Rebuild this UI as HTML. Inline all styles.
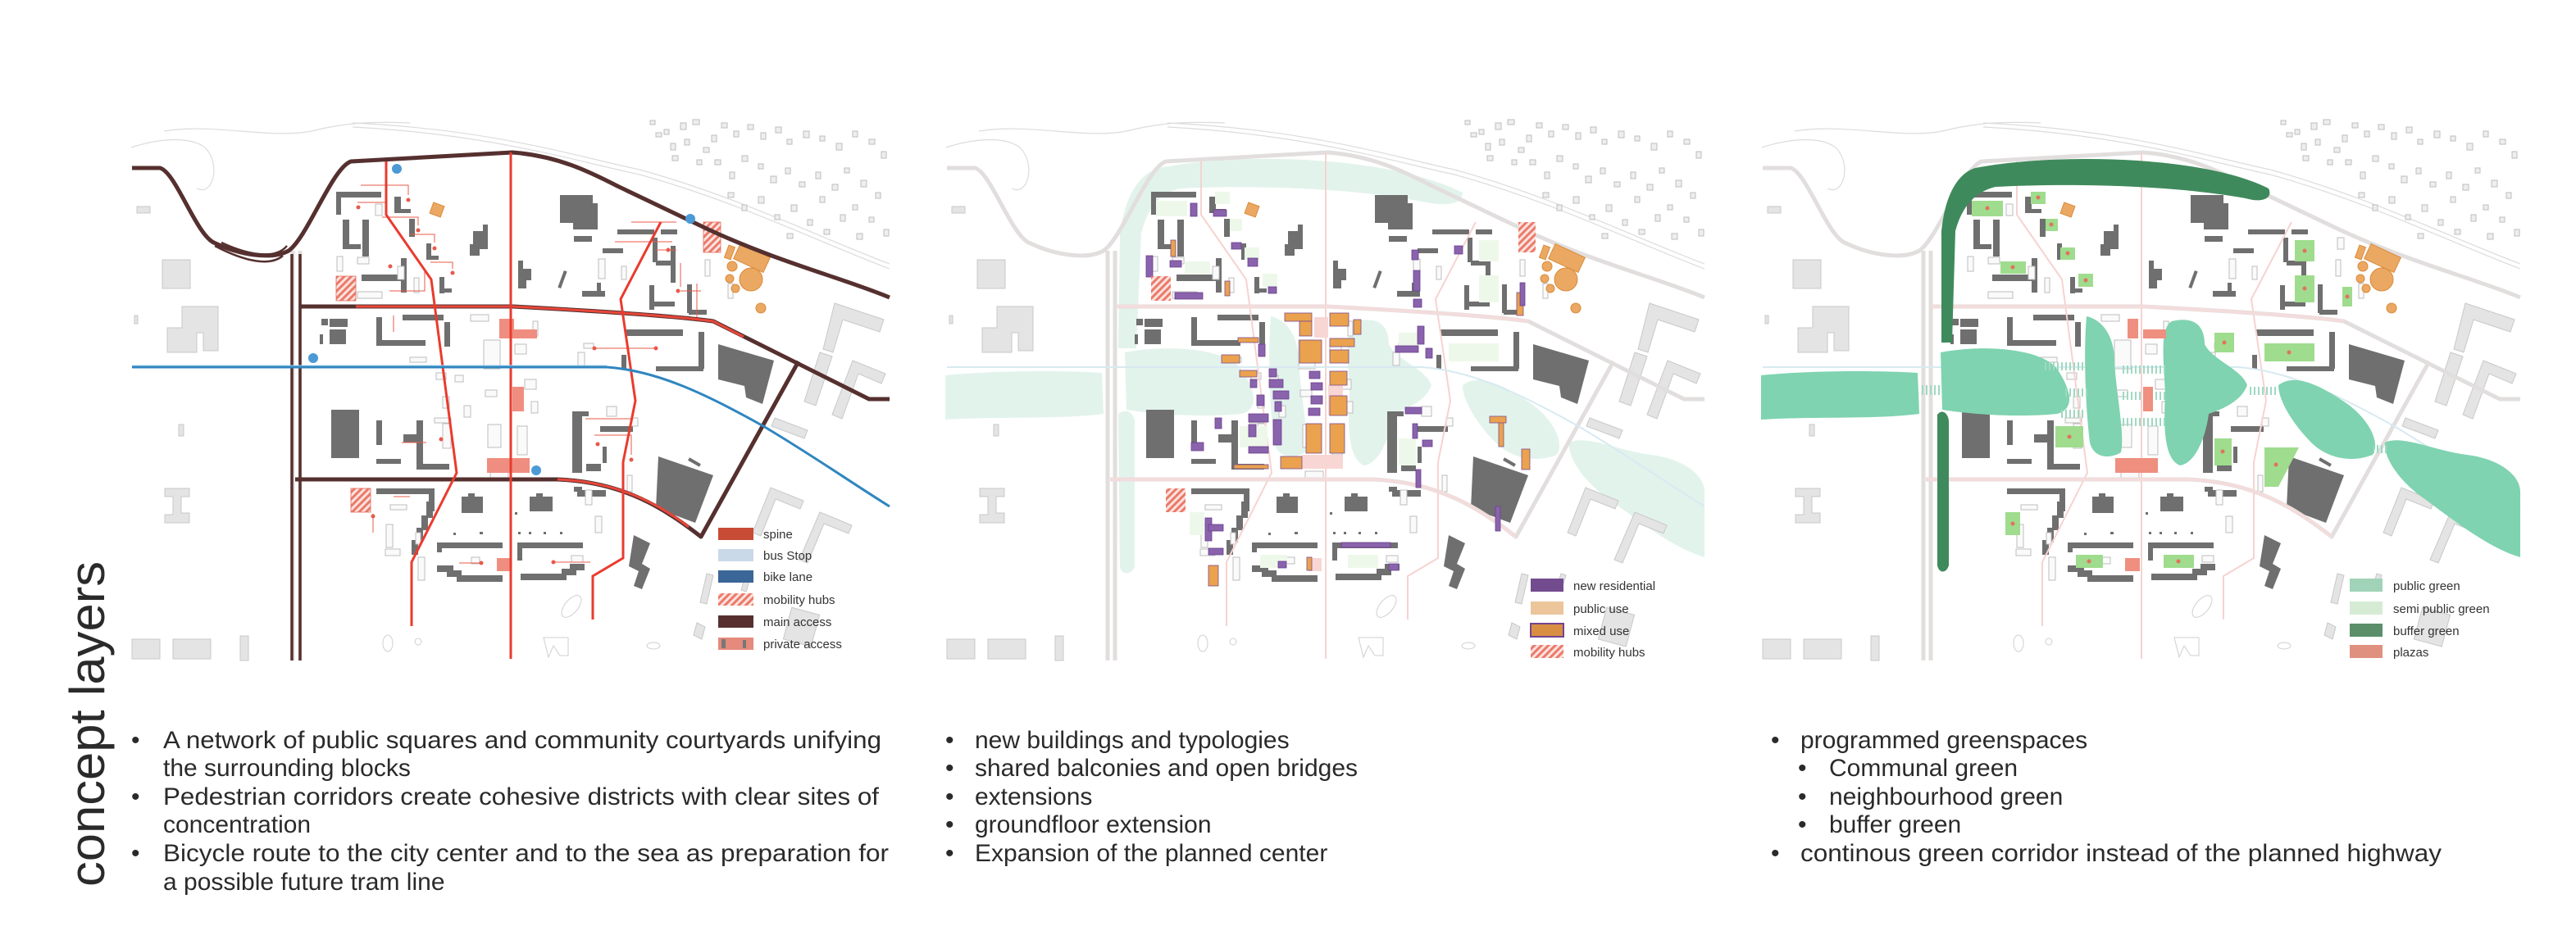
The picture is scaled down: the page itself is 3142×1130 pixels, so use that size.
<!DOCTYPE html>
<html><head><meta charset="utf-8"><style>
html,body{margin:0;padding:0;background:#fff;}
svg{display:block;}
.t{font-family:"Liberation Sans",sans-serif;fill:#2a2a2a;}
.lg{font-family:"Liberation Sans",sans-serif;font-size:15px;fill:#333;}
</style></head><body>
<svg width="3142" height="1130" viewBox="0 0 3142 1130" xmlns="http://www.w3.org/2000/svg">
<defs>
<pattern id="hatch" width="6" height="6" patternUnits="userSpaceOnUse" patternTransform="rotate(45)">
<rect width="6" height="6" fill="#fbe3df"/><rect width="3" height="6" fill="#ec7a6a"/></pattern>
<pattern id="cross" width="5" height="14" patternUnits="userSpaceOnUse"><rect width="2" height="14" fill="#9fd9c2"/></pattern>
<g id="base">
 <g fill="none" stroke="#dcdcdc" stroke-width="1.2">
  <path d="M160,180 C190,170 230,165 250,180 C270,200 260,240 240,230"/>
  <path d="M200,160 C260,150 330,170 380,160 C420,150 450,148 500,150"/>
  <path d="M430,150 C600,158 700,190 780,207 C900,240 1000,290 1085,322"/>
  <path d="M430,155 C600,164 700,196 780,213 C900,246 1000,296 1085,328"/>
 </g>
 <g fill="#e4e4e4" stroke="#c8c8c8" stroke-width="1">
  <rect x="198" y="317" width="34" height="35"/>
  <path d="M222,374 h44 v54 h-18 v-22 h-8 v24 h-36 v-30 h18 z"/>
  <path d="M201,596 h30 v10 h-10 v20 h10 v12 h-30 v-10 h10 v-22 h-10 z"/>
  <rect x="161" y="780" width="34" height="24"/>
  <rect x="211" y="780" width="46" height="24"/>
  <rect x="293" y="776" width="10" height="30"/>
  <rect x="167" y="252" width="16" height="8"/>
  <rect x="164" y="385" width="4" height="10"/>
  <rect x="218" y="518" width="6" height="14"/>
  <path d="M1018,370 l60,20 l-5,15 l-45,-15 l-12,40 l-12,-4 z"/>
  <path d="M1000,430 l15,5 l-20,60 l-14,-5 z"/>
  <path d="M1040,440 l40,16 l-5,12 l-28,-12 l-20,55 l-12,-5 z"/>
  <path d="M945,510 l40,15 l-4,10 l-40,-15 z"/>
  <path d="M940,595 l-22,55 l10,4 l18,-45 l30,12 l4,-10 z"/>
  <path d="M1000,625 l-25,58 l10,4 l20,-48 l30,12 l4,-10 z"/>
  <rect x="960" y="745" width="35" height="40" transform="rotate(15 977 765)"/>
  <path d="M862,700 l-8,35 l8,2 l8,-35 z"/>
  <path d="M850,760 l10,5 l-4,15 l-10,-5 z"/>
  <path d="M910,700 l-6,20 l6,2 l6,-20 z"/>
 </g>
 <g fill="none" stroke="#cfcfcf" stroke-width="1">
  <ellipse cx="697" cy="740" rx="8" ry="16" transform="rotate(40 697 740)"/>
  <ellipse cx="473" cy="785" rx="6" ry="10"/><circle cx="510" cy="783" r="4"/>
  <path d="M663,778 h30 v22 h-10 l-8,-12 l-6,14 z"/>
  <ellipse cx="797" cy="788" rx="8" ry="4"/>
 </g>
 <g fill="#eee" stroke="#bdbdbd" stroke-width="1">
  <rect x="793" y="147" width="6" height="5"/><rect x="800" y="162" width="7" height="5"/><rect x="810" y="158" width="6" height="6"/>
  <rect x="830" y="150" width="7" height="8"/><rect x="845" y="146" width="8" height="6"/><rect x="818" y="175" width="6" height="8"/>
  <rect x="835" y="170" width="6" height="7"/><rect x="858" y="180" width="7" height="6"/><rect x="868" y="165" width="6" height="8"/>
  <rect x="880" y="150" width="7" height="6"/><rect x="895" y="160" width="6" height="7"/><rect x="912" y="152" width="7" height="6"/>
  <rect x="928" y="162" width="6" height="8"/><rect x="946" y="155" width="7" height="7"/><rect x="960" y="170" width="6" height="6"/>
  <rect x="980" y="160" width="7" height="8"/><rect x="1000" y="166" width="6" height="6"/><rect x="1020" y="175" width="7" height="8"/>
  <rect x="1040" y="160" width="6" height="7"/><rect x="1060" y="170" width="7" height="6"/><rect x="1075" y="185" width="6" height="8"/>
  <rect x="872" y="195" width="7" height="6"/><rect x="890" y="210" width="6" height="8"/><rect x="905" y="190" width="7" height="7"/>
  <rect x="925" y="200" width="6" height="6"/><rect x="940" y="215" width="7" height="8"/><rect x="958" y="205" width="6" height="7"/>
  <rect x="975" y="222" width="7" height="6"/><rect x="995" y="210" width="6" height="8"/><rect x="1015" y="225" width="7" height="7"/>
  <rect x="1030" y="205" width="6" height="6"/><rect x="1050" y="220" width="7" height="8"/><rect x="1068" y="235" width="6" height="7"/>
  <rect x="888" y="235" width="7" height="6"/><rect x="905" y="250" width="6" height="7"/><rect x="925" y="240" width="7" height="8"/>
  <rect x="945" y="262" width="6" height="6"/><rect x="965" y="250" width="7" height="8"/><rect x="985" y="268" width="6" height="7"/>
  <rect x="1005" y="280" width="7" height="6"/><rect x="1025" y="262" width="6" height="8"/><rect x="1045" y="285" width="7" height="7"/>
  <rect x="1060" y="265" width="6" height="6"/><rect x="1078" y="280" width="6" height="8"/>
  <rect x="850" y="195" width="6" height="6"/><rect x="820" y="190" width="7" height="6"/><rect x="1000" y="240" width="6" height="7"/><rect x="1040" y="250" width="6" height="6"/><rect x="960" y="285" width="7" height="6"/>
 </g>
 <g fill="#6f6f6f">
  <rect x="410" y="234" width="55" height="7"/><rect x="410" y="240" width="6" height="22"/>
  <rect x="418" y="268" width="8" height="36"/><rect x="418" y="298" width="22" height="6"/>
  <rect x="442" y="268" width="8" height="45"/><rect x="441" y="335" width="50" height="8"/>
  <rect x="489" y="315" width="7" height="42"/><rect x="481" y="240" width="8" height="20"/><rect x="481" y="255" width="20" height="5"/>
  <rect x="499" y="267" width="7" height="22"/><rect x="520" y="297" width="6" height="20"/><rect x="520" y="312" width="15" height="5"/>
  <rect x="536" y="338" width="6" height="20"/><rect x="536" y="352" width="15" height="5"/>
  <path d="M683,238 h40 v10 h6 v32 h-30 v-8 h-16 z"/>
  <path d="M577,282 h12 v-8 h6 v30 h-10 v8 h-12 v-14 h4 z"/>
  <path d="M632,318 h6 v10 h10 v14 h-6 v10 h-10 z"/>
  <rect x="684" y="330" width="4" height="22" transform="rotate(20 686 341)"/>
  <rect x="404" y="500" width="34" height="59"/>
  <path d="M803,557 l67,23 l-22,58 l-48,-18 z"/><rect x="845" y="556" width="4" height="16" transform="rotate(-60 847 564)"/>
  <path d="M876,420 l68,20 l-14,53 l-20,-8 l-2,-14 l-32,-8 z"/>
  <rect x="763" y="402" width="70" height="8"/><rect x="852" y="405" width="7" height="45"/><rect x="800" y="447" width="58" height="6"/>
  <rect x="758" y="433" width="6" height="18"/>
  <rect x="698" y="502" width="12" height="75"/><rect x="698" y="502" width="20" height="6"/>
  <rect x="732" y="520" width="40" height="7"/><rect x="715" y="566" width="18" height="9"/><rect x="735" y="545" width="5" height="20"/>
  <rect x="459" y="513" width="7" height="30"/><rect x="508" y="513" width="8" height="60"/><rect x="508" y="566" width="40" height="7"/>
  <rect x="492" y="530" width="18" height="10"/><rect x="459" y="560" width="30" height="6"/>
  <rect x="459" y="387" width="7" height="33"/><rect x="459" y="415" width="60" height="7"/><rect x="491" y="384" width="50" height="7"/><rect x="542" y="393" width="7" height="30"/>
  <rect x="392" y="389" width="8" height="8"/><rect x="402" y="389" width="22" height="10"/><rect x="402" y="402" width="20" height="18"/><rect x="390" y="408" width="4" height="12"/>
  <rect x="753" y="280" width="45" height="6"/><rect x="806" y="280" width="20" height="6"/>
  <rect x="796" y="290" width="6" height="30"/><rect x="818" y="300" width="6" height="45"/><rect x="800" y="318" width="22" height="6"/>
  <rect x="792" y="348" width="6" height="30"/><rect x="798" y="368" width="25" height="6"/>
  <rect x="838" y="347" width="6" height="35"/><rect x="840" y="378" width="22" height="6"/>
  <rect x="735" y="303" width="25" height="6"/><rect x="700" y="288" width="22" height="7"/>
  <rect x="710" y="355" width="28" height="7"/><rect x="728" y="345" width="5" height="15"/>
  <rect x="459" y="596" width="67" height="7"/><rect x="523" y="596" width="7" height="28"/>
  <rect x="533" y="662" width="80" height="7"/><rect x="533" y="662" width="6" height="12"/>
  <rect x="631" y="662" width="80" height="7"/><rect x="631" y="662" width="6" height="22"/>
  <path d="M533,690 h20 v6 h10 v6 h50 v8 h-56 v-6 h-12 v-6 h-12 z"/>
  <path d="M713,688 h-18 v6 h-10 v6 h-50 v8 h56 v-6 h12 v-6 h10 z"/>
  <path d="M520,612 h8 v20 h-6 v15 h-6 v15 h-6 v15 h-8 v-18 h6 v-15 h6 v-15 h6 z"/>
  <rect x="704" y="598" width="35" height="8"/><rect x="700" y="594" width="10" height="6"/>
  <path d="M563,606 h8 v-4 h8 v4 h10 v20 h-26 z"/><path d="M646,606 h8 v-4 h8 v4 h12 v18 h-28 z"/>
  <rect x="578" y="622" width="3" height="3"/><rect x="628" y="625" width="3" height="3"/>
  <rect x="553" y="650" width="3" height="3"/><rect x="585" y="649" width="4" height="3"/><rect x="632" y="649" width="3" height="3"/><rect x="645" y="649" width="3" height="3"/><rect x="663" y="649" width="3" height="3"/><rect x="683" y="649" width="3" height="3"/>
  <path d="M773,653 l20,10 l-10,25 l10,6 l-10,25 l-10,-4 l6,-18 l-12,-6 z"/>
 </g>
 <g fill="#fafafa" stroke="#bdbdbd" stroke-width="1">
  <rect x="458" y="249" width="8" height="14"/><rect x="411" y="313" width="7" height="18"/><rect x="436" y="314" width="14" height="8"/>
  <rect x="505" y="339" width="6" height="18"/><rect x="436" y="356" width="30" height="8"/>
  <rect x="730" y="316" width="8" height="24"/><rect x="758" y="325" width="6" height="16"/>
  <rect x="862" y="290" width="8" height="14"/><rect x="860" y="317" width="6" height="20"/><rect x="888" y="346" width="6" height="18"/>
  <rect x="574" y="384" width="22" height="8"/><rect x="650" y="392" width="6" height="18"/><rect x="590" y="415" width="20" height="35"/>
  <rect x="628" y="420" width="14" height="12"/><rect x="705" y="430" width="8" height="16"/><rect x="712" y="419" width="12" height="6"/>
  <rect x="500" y="436" width="20" height="6"/><rect x="532" y="455" width="12" height="8"/><rect x="555" y="458" width="10" height="8"/>
  <rect x="540" y="484" width="8" height="14"/><rect x="566" y="495" width="8" height="14"/><rect x="530" y="510" width="20" height="6"/>
  <rect x="592" y="476" width="14" height="8"/><rect x="640" y="463" width="14" height="12"/><rect x="648" y="490" width="8" height="14"/>
  <rect x="595" y="518" width="16" height="28"/><rect x="631" y="520" width="12" height="35"/><rect x="540" y="517" width="10" height="30"/>
  <rect x="598" y="575" width="22" height="8"/><rect x="740" y="496" width="12" height="12"/><rect x="770" y="510" width="8" height="10"/>
  <rect x="765" y="580" width="6" height="20"/><rect x="714" y="598" width="8" height="18"/><rect x="726" y="630" width="8" height="20"/>
  <rect x="471" y="640" width="8" height="28"/><rect x="470" y="670" width="18" height="8"/><rect x="507" y="650" width="6" height="14"/>
  <rect x="510" y="680" width="8" height="28"/><rect x="575" y="680" width="10" height="8"/><rect x="697" y="678" width="14" height="8"/>
  <rect x="476" y="616" width="20" height="6"/><rect x="485" y="325" width="8" height="16"/>
 </g>
 <g fill="none" stroke="#e2dede" stroke-width="5" stroke-linejoin="round">
  <path d="M161,205 L195,205 C215,210 240,290 263,297 C290,310 330,318 352,306 C375,290 405,205 428,197 L625,186 C680,190 720,210 753,227 L864,280 C950,320 1030,340 1085,363"/>
  <path d="M357,306 L357,806 M366,306 L366,806"/>
  <path d="M367,374 L625,374 C700,378 820,385 870,392 L1060,487 L1085,487"/>
  <path d="M360,585 L680,585 C760,588 810,620 855,655 L974,441"/>
 </g>
</g>
<g id="pinkspine" fill="none" stroke="#f6d3d0" stroke-width="2">
  <path d="M471,197 L471,262 L526,341 L557,577 L502,686 L502,764"/>
  <path d="M623,186 L623,804"/>
  <path d="M806,271 L757,365 L775,489 L760,564 L760,681 L723,703 L723,756"/>
  <path d="M367,374 L625,374 C700,378 820,385 870,392 M360,585 L680,585 C760,588 810,620 855,655" stroke="#f3dcdb" stroke-width="4"/>
  <path d="M161,448 L740,448 C800,452 860,480 931,520 C990,555 1040,590 1085,618" stroke="#d7eaf1" stroke-width="2"/>
</g>
<g id="orange" fill="#eba862" stroke="#d98b3c" stroke-width="1">
  <rect x="526" y="249" width="14" height="14" transform="rotate(20 533 256)"/>
  <rect x="897" y="305" width="40" height="20" transform="rotate(25 917 315)"/>
  <rect x="886" y="300" width="8" height="16" transform="rotate(20 890 308)"/>
  <circle cx="916" cy="341" r="14"/><circle cx="893" cy="325" r="6"/><circle cx="890" cy="340" r="5"/><circle cx="897" cy="352" r="5"/><circle cx="928" cy="376" r="6"/>
</g>
</defs>

<!-- MAP 1 -->
<g>
 <use href="#base"/>
 <use href="#orange"/>
 <g fill="#ef8e80">
  <rect x="609" y="389" width="18" height="24"/><rect x="627" y="402" width="28" height="11"/>
  <rect x="625" y="472" width="14" height="30"/><rect x="594" y="559" width="52" height="18"/><rect x="606" y="681" width="16" height="16"/>
 </g>
 <g fill="url(#hatch)" stroke="#e06a5a" stroke-width="0.8">
  <rect x="410" y="337" width="24" height="30"/><rect x="858" y="271" width="21" height="37"/><rect x="428" y="596" width="24" height="29"/>
 </g>
 <g stroke="#e8584a" stroke-width="1" fill="none">
  <path d="M440,226 H498 V238 M436,247 H470 M466,265 H510 V275 M500,286 H530 V296 M525,320 H552 V328 M475,355 H518 V330"/>
  <path d="M770,271 H825 M750,295 H820 M800,305 H825 M830,321 V350 M830,355 H855 M850,392 V346"/>
  <path d="M480,385 V405 M725,425 H800 M714,511 H770 M725,531 H770 V555 M490,540 H520 M480,606 H500 M455,627 V650 M560,687 H585 M673,686 H720"/>
 </g>
 <g fill="#e8584a">
  <circle cx="498" cy="244" r="2.5"/><circle cx="437" cy="253" r="2.5"/><circle cx="510" cy="281" r="2.5"/><circle cx="530" cy="303" r="2.5"/><circle cx="552" cy="333" r="2.5"/><circle cx="476" cy="325" r="2.5"/>
  <circle cx="815" cy="305" r="2.5"/><circle cx="827" cy="355" r="2.5"/><circle cx="725" cy="425" r="2.5"/><circle cx="800" cy="425" r="2.5"/><circle cx="729" cy="542" r="2.5"/>
  <circle cx="770" cy="561" r="2.5"/><circle cx="538" cy="536" r="2.5"/><circle cx="455" cy="630" r="2.5"/><circle cx="587" cy="687" r="2.5"/><circle cx="675" cy="686" r="2.5"/>
 </g>
 <g fill="none" stroke="#55302f" stroke-width="5" stroke-linejoin="round">
  <path d="M161,205 L195,205 C215,210 240,290 263,297 C290,310 330,318 352,306 C375,290 405,205 428,197 L625,186 C680,190 720,210 753,227 L864,280 C950,320 1030,340 1085,363"/>
  <path d="M367,374 L625,374 C700,378 820,385 870,392 L1060,487 L1085,487"/>
  <path d="M360,585 L680,585 C760,588 810,620 855,655 L974,441"/>
  <path d="M262,300 C300,320 330,325 345,312 M270,296 C300,310 335,318 350,300" stroke-width="2.5"/>
  <path d="M356,310 L356,806 M366,310 L366,806" stroke-width="3.5"/>
 </g>
 <g fill="none" stroke="#e8473a" stroke-width="3">
  <path d="M434,374 L625,374 C700,378 820,385 870,392 L907,411"/>
  <path d="M680,585 C760,588 810,620 840,643"/>
 </g>
 <g fill="none" stroke="#ea3b2e" stroke-width="3">
  <path d="M471,197 L471,262 L526,341 L557,577 L502,686 L502,764"/>
  <path d="M623,186 L623,804"/>
  <path d="M806,271 L757,365 L775,489 L760,564 L760,681 L723,703 L723,756"/>
 </g>
 <path d="M161,448 L740,448 C800,452 860,480 931,520 C990,555 1040,590 1085,618" fill="none" stroke="#2f86c0" stroke-width="3"/>
 <path d="M161,446 L740,446" stroke="#a9d4ec" stroke-width="1" fill="none"/>
 <g fill="#4b9ad6"><circle cx="484" cy="206" r="6"/><circle cx="842" cy="267" r="6"/><circle cx="382" cy="437" r="6"/><circle cx="654" cy="574" r="6"/></g>
 <rect x="876" y="644" width="43" height="15" fill="#c84b36"/>
 <rect x="876" y="670" width="43" height="15" fill="#c9d9e8"/>
 <rect x="876" y="696" width="43" height="15" fill="#3b6698"/>
 <rect x="876" y="724" width="43" height="15" fill="url(#hatch)"/>
 <rect x="876" y="751" width="43" height="15" fill="#55302f"/>
 <rect x="876" y="778" width="43" height="15" fill="#e58a7c"/><rect x="880" y="780" width="5" height="11" fill="#777"/><rect x="906" y="781" width="4" height="10" fill="#777"/>
 <g class="lg"><text x="931" y="657">spine</text><text x="931" y="683">bus Stop</text><text x="931" y="709">bike lane</text><text x="931" y="737">mobility hubs</text><text x="931" y="764">main access</text><text x="931" y="791">private access</text></g>
</g>

<!-- MAP 2 -->
<g transform="translate(994,0)">
 <g fill="#e2f3ec">
  <path d="M420,205 C520,185 700,190 790,235 C790,250 770,252 740,246 C650,228 520,226 445,230 C420,236 405,255 398,285 L392,425 L370,425 L372,285 C378,240 395,212 420,205 Z"/>
  <path d="M370,505 C380,497 390,505 390,515 L390,692 C386,702 374,702 372,692 Z"/>
  <path d="M159,458 C220,452 300,452 350,455 L352,505 C300,512 220,508 159,512 Z"/>
  <path d="M378,430 C430,420 500,425 520,450 C540,480 540,500 520,505 C470,510 410,505 380,500 Z"/>
  <path d="M556,386 C575,390 590,410 590,440 C592,480 603,530 598,552 C585,560 565,560 560,540 C555,500 552,430 556,386 Z"/>
  <path d="M660,392 C690,385 700,400 700,420 C710,440 745,450 752,470 C745,490 720,500 705,505 C702,530 690,565 670,568 C650,560 650,520 652,480 C650,440 645,400 660,392 Z"/>
  <path d="M790,470 C810,455 840,470 870,490 C900,510 915,540 905,555 C880,565 850,560 830,540 C810,520 790,490 790,470 Z"/>
  <path d="M920,540 C940,530 980,550 1020,555 C1060,560 1085,580 1085,600 L1085,680 C1050,670 1010,640 970,610 C940,590 918,560 920,540 Z"/>
 </g>
 <use href="#base"/>
 <use href="#pinkspine"/>
 <use href="#orange"/>
 <g fill="#eef8ea">
  <rect x="416" y="245" width="38" height="19"/><rect x="488" y="234" width="18" height="15"/><rect x="506" y="267" width="15" height="15"/><rect x="524" y="302" width="18" height="15"/>
  <rect x="451" y="319" width="31" height="15"/><rect x="546" y="334" width="18" height="16"/><rect x="810" y="293" width="24" height="26"/><rect x="810" y="336" width="24" height="33"/>
  <rect x="712" y="406" width="24" height="24"/><rect x="773" y="419" width="61" height="22"/><rect x="518" y="520" width="34" height="26"/><rect x="712" y="535" width="21" height="33"/>
  <rect x="457" y="625" width="18" height="28"/><rect x="543" y="677" width="33" height="16"/><rect x="650" y="677" width="37" height="16"/>
 </g>
 <g fill="#f8d6d3"><rect x="609" y="387" width="17" height="25"/><rect x="626" y="470" width="18" height="37"/><rect x="594" y="555" width="50" height="17"/><rect x="602" y="681" width="16" height="16"/></g>
 <g fill="#eaa24e" stroke="#7d4d8f" stroke-width="0.8">
  <rect x="573" y="382" width="33" height="10"/><rect x="591" y="392" width="15" height="18"/><rect x="591" y="415" width="27" height="28"/>
  <rect x="628" y="382" width="23" height="16"/><rect x="657" y="390" width="9" height="18"/><rect x="628" y="413" width="30" height="10"/>
  <rect x="628" y="427" width="23" height="16"/><rect x="496" y="433" width="22" height="10"/><rect x="518" y="452" width="21" height="8"/>
  <rect x="628" y="453" width="21" height="17"/><rect x="628" y="483" width="21" height="24"/><rect x="599" y="517" width="19" height="36"/>
  <rect x="628" y="517" width="18" height="36"/><rect x="568" y="557" width="26" height="15"/><rect x="516" y="412" width="25" height="6"/><rect x="511" y="567" width="42" height="5"/>
  <rect x="600" y="680" width="6" height="16"/><rect x="480" y="690" width="12" height="25"/><rect x="834" y="515" width="6" height="30"/><rect x="861" y="275" width="8" height="22"/><rect x="823" y="508" width="20" height="8"/>
  <rect x="856" y="357" width="8" height="28"/><rect x="862" y="548" width="10" height="25"/><rect x="434" y="293" width="6" height="20"/><rect x="500" y="343" width="6" height="18"/>
 </g>
 <g fill="#8a63ad" stroke="#6a3f8c" stroke-width="0.8">
  <rect x="439" y="357" width="34" height="8"/><rect x="541" y="420" width="8" height="15"/><rect x="554" y="450" width="9" height="10"/>
  <rect x="531" y="463" width="8" height="10"/><rect x="554" y="463" width="17" height="10"/><rect x="559" y="477" width="19" height="10"/>
  <rect x="539" y="482" width="9" height="13"/><rect x="561" y="490" width="8" height="12"/><rect x="529" y="505" width="24" height="10"/>
  <rect x="559" y="512" width="10" height="31"/><rect x="529" y="518" width="9" height="15"/><rect x="529" y="545" width="24" height="8"/>
  <rect x="488" y="510" width="8" height="13"/><rect x="603" y="453" width="13" height="9"/><rect x="605" y="467" width="14" height="9"/>
  <rect x="605" y="483" width="14" height="10"/><rect x="602" y="498" width="14" height="9"/><rect x="459" y="540" width="15" height="10"/>
  <rect x="404" y="312" width="8" height="26"/><rect x="433" y="318" width="14" height="8"/><rect x="458" y="248" width="8" height="16"/><rect x="486" y="256" width="16" height="8"/>
  <rect x="508" y="296" width="12" height="8"/><rect x="528" y="315" width="12" height="10"/><rect x="553" y="350" width="10" height="8"/><rect x="780" y="300" width="10" height="10"/>
  <rect x="730" y="330" width="8" height="25"/><rect x="728" y="305" width="8" height="12"/><rect x="730" y="365" width="10" height="10"/><rect x="860" y="345" width="6" height="28"/>
  <rect x="708" y="422" width="28" height="8"/><rect x="735" y="398" width="8" height="22"/><rect x="745" y="425" width="8" height="12"/><rect x="720" y="497" width="20" height="8"/>
  <rect x="729" y="517" width="6" height="18"/><rect x="741" y="537" width="12" height="8"/><rect x="733" y="573" width="6" height="22"/><rect x="830" y="618" width="6" height="30"/>
  <rect x="476" y="632" width="8" height="28"/><rect x="480" y="669" width="18" height="8"/><rect x="480" y="640" width="18" height="8"/><rect x="642" y="662" width="60" height="6"/>
  <rect x="565" y="685" width="10" height="8"/><rect x="700" y="688" width="12" height="8"/>
 </g>
 <g fill="url(#hatch)"><rect x="410" y="337" width="24" height="30"/><rect x="858" y="271" width="21" height="37"/><rect x="428" y="596" width="24" height="29"/></g>
 <rect x="873" y="706" width="40" height="16" fill="#734b8f"/>
 <rect x="873" y="734" width="40" height="16" fill="#ecc59b"/>
 <rect x="873" y="761" width="40" height="16" fill="#d98f43" stroke="#73458f" stroke-width="2"/>
 <rect x="873" y="787" width="40" height="16" fill="url(#hatch)"/>
 <g class="lg"><text x="925" y="720">new residential</text><text x="925" y="748">public use</text><text x="925" y="775">mixed use</text><text x="925" y="801">mobility hubs</text></g>
</g>

<!-- MAP 3 -->
<g transform="translate(1989,0)">
 <use href="#base"/>
 <use href="#pinkspine"/>
 <use href="#orange"/>
 <g fill="#7fd3b0">
  <path d="M159,458 C220,452 300,452 350,455 L352,505 C300,512 220,508 159,512 Z"/>
  <path d="M378,430 C430,420 500,425 520,450 C540,480 540,500 520,505 C470,510 410,505 380,500 Z"/>
  <path d="M556,386 C575,390 590,410 590,440 C592,480 603,530 598,552 C585,560 565,560 560,540 C555,500 552,430 556,386 Z"/>
  <path d="M660,392 C690,385 700,400 700,420 C710,440 745,450 752,470 C745,490 720,500 705,505 C702,530 690,565 670,568 C650,560 650,520 652,480 C650,440 645,400 660,392 Z"/>
  <path d="M790,470 C810,455 840,470 870,490 C900,510 915,540 905,555 C880,565 850,560 830,540 C810,520 790,490 790,470 Z"/>
  <path d="M920,540 C940,530 980,550 1020,555 C1060,560 1085,580 1085,600 L1085,680 C1050,670 1010,640 970,610 C940,590 918,560 920,540 Z"/>
 </g>
 <g fill="url(#cross)">
  <rect x="352" y="470" width="26" height="12"/><rect x="505" y="442" width="50" height="10"/><rect x="598" y="446" width="55" height="10"/>
  <rect x="530" y="474" width="30" height="10"/><rect x="600" y="478" width="55" height="10"/><rect x="525" y="500" width="30" height="10"/>
  <rect x="598" y="510" width="55" height="10"/><rect x="752" y="472" width="38" height="10"/><rect x="906" y="543" width="18" height="10"/>
 </g>
 <g fill="#3f8a5c">
  <path d="M420,205 C520,186 700,190 778,230 C784,242 770,248 750,242 C650,224 520,224 445,228 C420,234 404,252 396,282 L392,418 L379,418 L379,282 C383,240 398,212 420,205 Z"/>
  <path d="M374,506 C380,498 388,505 388,515 L388,690 C385,700 376,700 374,690 Z"/>
 </g>
 <g fill="#9fdc8e">
  <rect x="416" y="245" width="38" height="19"/><rect x="488" y="234" width="18" height="15"/><rect x="506" y="267" width="15" height="15"/><rect x="524" y="302" width="18" height="15"/>
  <rect x="451" y="319" width="31" height="15"/><rect x="546" y="334" width="18" height="16"/><rect x="810" y="293" width="24" height="26"/><rect x="810" y="336" width="24" height="33"/>
  <rect x="868" y="350" width="12" height="24"/><rect x="712" y="406" width="24" height="24"/><rect x="773" y="419" width="61" height="22"/><rect x="518" y="520" width="34" height="26"/>
  <rect x="712" y="535" width="21" height="33"/><path d="M773,546 L815,546 L790,594 L773,594 Z"/><rect x="457" y="625" width="18" height="28"/>
  <rect x="543" y="677" width="33" height="16"/><rect x="650" y="677" width="37" height="16"/>
 </g>
 <g fill="#e0735f">
  <circle cx="435" cy="254" r="2.5"/><circle cx="497" cy="241" r="2.5"/><circle cx="513" cy="274" r="2.5"/><circle cx="533" cy="309" r="2.5"/><circle cx="466" cy="326" r="2.5"/><circle cx="555" cy="342" r="2.5"/>
  <circle cx="822" cy="306" r="2.5"/><circle cx="822" cy="352" r="2.5"/><circle cx="874" cy="362" r="2.5"/><circle cx="724" cy="418" r="2.5"/><circle cx="803" cy="430" r="2.5"/><circle cx="535" cy="533" r="2.5"/>
  <circle cx="722" cy="551" r="2.5"/><circle cx="787" cy="567" r="2.5"/><circle cx="466" cy="639" r="2.5"/><circle cx="559" cy="685" r="2.5"/><circle cx="668" cy="685" r="2.5"/>
 </g>
 <g fill="#ee8f80"><rect x="606" y="389" width="13" height="24"/><rect x="625" y="402" width="28" height="11"/><rect x="625" y="472" width="12" height="30"/><rect x="591" y="559" width="52" height="18"/><rect x="603" y="681" width="18" height="16"/></g>
 <rect x="877" y="706" width="40" height="16" fill="#a0d3b8"/>
 <rect x="877" y="734" width="40" height="16" fill="#d6ebd4"/>
 <rect x="877" y="761" width="40" height="16" fill="#5a8f6a"/>
 <rect x="877" y="787" width="40" height="16" fill="#e0907f"/>
 <g class="lg"><text x="930" y="720">public green</text><text x="930" y="748">semi public green</text><text x="930" y="775">buffer green</text><text x="930" y="801">plazas</text></g>
</g>

<!-- TEXT -->
<text class="t" transform="translate(127,1082) rotate(-90)" font-size="60" textLength="397" lengthAdjust="spacingAndGlyphs">concept layers</text>
<g class="t" font-size="30">
 <text x="160" y="913">•</text>
 <text x="199" y="913" textLength="876" lengthAdjust="spacingAndGlyphs">A network of public squares and community courtyards unifying</text>
 <text x="199" y="947">the surrounding blocks</text>
 <text x="160" y="982">•</text>
 <text x="199" y="982" textLength="873" lengthAdjust="spacingAndGlyphs">Pedestrian corridors create cohesive districts with clear sites of</text>
 <text x="199" y="1016">concentration</text>
 <text x="160" y="1051">•</text>
 <text x="199" y="1051" textLength="885" lengthAdjust="spacingAndGlyphs">Bicycle route to the city center and to the sea as preparation for</text>
 <text x="199" y="1086">a possible future tram line</text>

 <text x="1153" y="913">•</text><text x="1189" y="913">new buildings and typologies</text>
 <text x="1153" y="947">•</text><text x="1189" y="947">shared balconies and open bridges</text>
 <text x="1153" y="982">•</text><text x="1189" y="982">extensions</text>
 <text x="1153" y="1016">•</text><text x="1189" y="1016">groundfloor extension</text>
 <text x="1153" y="1051">•</text><text x="1189" y="1051">Expansion of the planned center</text>

 <text x="2160" y="913">•</text><text x="2196" y="913">programmed greenspaces</text>
 <text x="2193" y="947">•</text><text x="2231" y="947">Communal green</text>
 <text x="2193" y="982">•</text><text x="2231" y="982">neighbourhood green</text>
 <text x="2193" y="1016">•</text><text x="2231" y="1016">buffer green</text>
 <text x="2160" y="1051">•</text><text x="2196" y="1051" textLength="782" lengthAdjust="spacingAndGlyphs">continous green corridor instead of the planned highway</text>
</g>
</svg>
</body></html>
